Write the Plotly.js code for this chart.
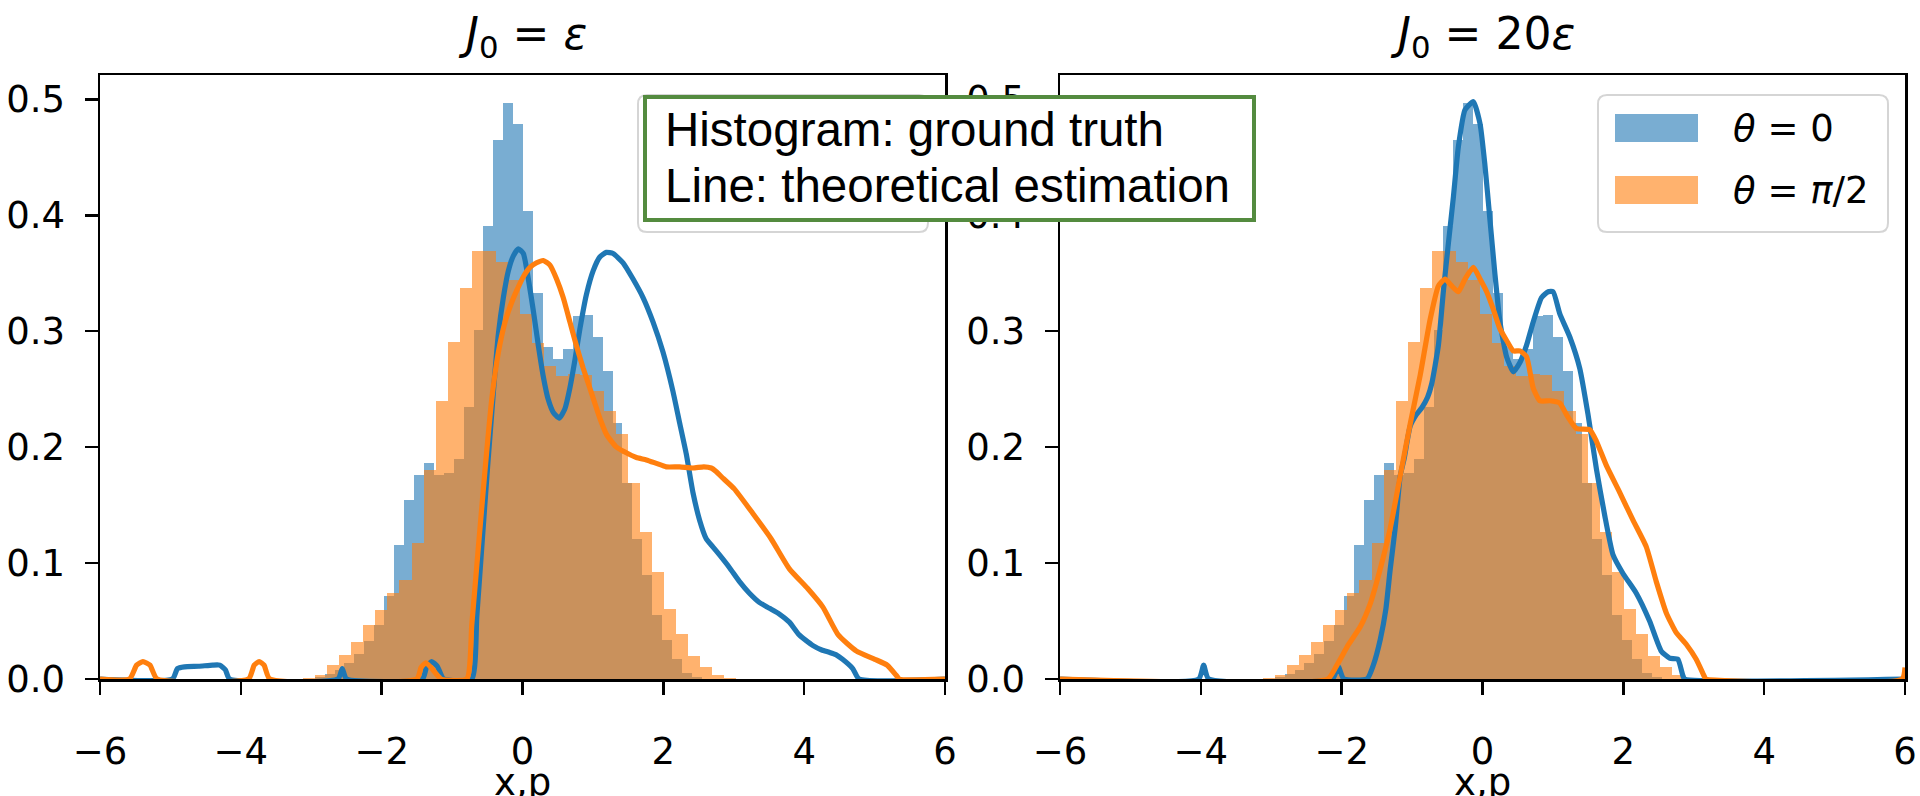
<!DOCTYPE html>
<html>
<head>
<meta charset="utf-8">
<script src="https://cdn.plot.ly/plotly-3.0.1.min.js"></script>
<style>
html,body{margin:0;padding:0;background:#ffffff;}
#chart{width:1920px;height:796px;}
</style>
</head>
<body>
<div id="chart"></div>
<script>
// ---------------- data ----------------
// ground-truth histograms (density), same sample in both panels
const blueBinLeft = [-2.951,-2.810,-2.669,-2.528,-2.387,-2.246,-2.105,-1.964,-1.823,-1.682,-1.541,-1.400,-1.259,-1.118,-0.977,-0.836,-0.695,-0.554,-0.413,-0.272,-0.131,0.010,0.151,0.292,0.433,0.574,0.715,0.856,0.997,1.138,1.279,1.420,1.561,1.702,1.843,1.984,2.125,2.266,2.407];
const blueBinWidth = 0.141;
const blueDensity = [0.002,0.004,0.008,0.014,0.022,0.033,0.047,0.072,0.116,0.154,0.176,0.186,0.176,0.178,0.190,0.235,0.301,0.391,0.465,0.497,0.479,0.404,0.333,0.286,0.276,0.285,0.313,0.314,0.295,0.266,0.221,0.169,0.121,0.090,0.055,0.034,0.017,0.005,0.002];

const orangeBinLeft = [-3.115,-2.944,-2.773,-2.602,-2.431,-2.260,-2.089,-1.918,-1.747,-1.576,-1.405,-1.235,-1.064,-0.893,-0.722,-0.551,-0.380,-0.209,-0.038,0.132,0.303,0.474,0.645,0.816,0.987,1.158,1.329,1.500,1.671,1.842,2.013,2.184,2.354,2.525,2.696,2.867];
const orangeBinWidth = 0.1709;
const orangeDensity = [0.001,0.0034,0.012,0.0206,0.032,0.047,0.0597,0.0746,0.0855,0.117,0.180,0.240,0.291,0.337,0.369,0.369,0.360,0.344,0.315,0.290,0.270,0.261,0.263,0.262,0.248,0.231,0.211,0.169,0.127,0.092,0.060,0.0386,0.020,0.010,0.0034,0.001];

// theoretical estimation, J0 = eps
const estEpsTheta0X = [-6,-4.97,-4.90,-4.80,-4.60,-4.40,-4.30,-4.22,-4.16,-2.62,-2.56,-2.50,-1.42,-1.36,-1.29,-1.21,-1.12,-0.72,-0.649,-0.578,-0.498,-0.413,-0.342,-0.272,-0.201,-0.130,-0.059,0.012,0.083,0.153,0.224,0.295,0.366,0.437,0.522,0.602,0.673,0.744,0.815,0.909,1.003,1.098,1.190,1.287,1.428,1.570,1.712,1.853,1.995,2.137,2.231,2.326,2.420,2.515,2.609,2.703,2.798,2.940,3.082,3.223,3.365,3.507,3.648,3.790,3.930,4.120,4.250,4.357,4.450,4.545,4.690,4.780,6];
const estEpsTheta0Y = [0,0,0.009,0.0105,0.011,0.012,0.012,0.008,0,0,0.009,0,0,0.011,0.015,0.011,0,0,0.054,0.114,0.181,0.248,0.298,0.329,0.352,0.365,0.371,0.367,0.345,0.318,0.288,0.261,0.241,0.230,0.225,0.233,0.251,0.275,0.302,0.332,0.352,0.364,0.368,0.367,0.359,0.345,0.329,0.308,0.282,0.248,0.221,0.194,0.161,0.137,0.121,0.114,0.107,0.096,0.084,0.074,0.066,0.061,0.056,0.049,0.038,0.029,0.025,0.023,0.021,0.017,0.009,0,0];

const estEpsThetaHalfPiX = [-6,-5.58,-5.48,-5.39,-5.29,-5.19,-3.89,-3.81,-3.74,-3.67,-3.59,-1.50,-1.44,-1.373,-1.30,-1.156,-0.791,-0.72,-0.626,-0.531,-0.437,-0.342,-0.248,-0.153,-0.083,0.012,0.106,0.200,0.295,0.390,0.484,0.578,0.673,0.768,0.862,0.956,1.098,1.192,1.334,1.447,1.617,1.759,1.901,2.042,2.231,2.420,2.575,2.680,2.749,2.850,3.008,3.269,3.530,3.790,4.050,4.266,4.484,4.743,5.004,5.178,5.310,5.350,6];
const estEpsThetaHalfPiY = [0,0,0.012,0.015,0.012,0,0,0.012,0.015,0.012,0,0,0.010,0.014,0.010,0,0,0.047,0.114,0.181,0.241,0.282,0.308,0.325,0.335,0.347,0.355,0.359,0.361,0.357,0.345,0.329,0.308,0.287,0.268,0.251,0.225,0.211,0.200,0.196,0.191,0.189,0.186,0.183,0.183,0.182,0.183,0.182,0.179,0.173,0.164,0.143,0.121,0.095,0.078,0.062,0.038,0.024,0.017,0.012,0.003,0,0];

// theoretical estimation, J0 = 20 eps
const est20Theta0X = [-6,-4.03,-3.96,-3.89,-2.13,-2.05,-1.97,-1.64,-1.55,-1.452,-1.373,-1.310,-1.240,-1.169,-1.113,-1.027,-0.940,-0.862,-0.780,-0.720,-0.626,-0.555,-0.484,-0.413,-0.343,-0.248,-0.130,-0.035,0.035,0.106,0.177,0.248,0.342,0.437,0.531,0.626,0.720,0.838,0.933,1.003,1.098,1.240,1.381,1.499,1.618,1.736,1.854,1.995,2.184,2.373,2.539,2.657,2.774,2.845,2.869,6];
const est20Theta0Y = [0,0,0.012,0,0,0.011,0,0,0.012,0.034,0.060,0.095,0.130,0.175,0.190,0.218,0.228,0.234,0.243,0.255,0.288,0.335,0.376,0.416,0.459,0.491,0.498,0.479,0.443,0.396,0.349,0.308,0.278,0.265,0.273,0.288,0.308,0.329,0.334,0.334,0.315,0.295,0.268,0.228,0.181,0.141,0.107,0.091,0.074,0.050,0.024,0.018,0.017,0.003,0,0];

const est20ThetaHalfPiX = [-6,-2.197,-2.067,-1.900,-1.736,-1.594,-1.452,-1.310,-1.169,-1.027,-0.885,-0.744,-0.626,-0.531,-0.437,-0.343,-0.248,-0.130,-0.035,0.059,0.153,0.248,0.342,0.437,0.531,0.626,0.720,0.815,0.956,1.098,1.193,1.335,1.523,1.618,1.760,1.948,2.137,2.326,2.468,2.610,2.751,2.893,3.035,3.152,3.170,5.960,6];
const est20ThetaHalfPiY = [0,0,0.012,0.030,0.045,0.065,0.095,0.130,0.175,0.220,0.262,0.310,0.339,0.345,0.339,0.334,0.345,0.355,0.345,0.334,0.319,0.302,0.292,0.283,0.283,0.278,0.251,0.240,0.240,0.238,0.228,0.216,0.215,0.205,0.184,0.161,0.137,0.114,0.084,0.057,0.040,0.030,0.017,0.002,0,0,0.010];

// text
const panelTitles = ['<i>J</i><sub>0</sub> = <i>ε</i>', '<i>J</i><sub>0</sub> = 20<i>ε</i>'];
const legendLabels = ['<i>θ</i> = 0', '<i>θ</i> = <i>π</i>/2'];
const noteText = ['Histogram: ground truth', 'Line: theoretical estimation'];
const xLabel = 'x,p';
const xTickVals = [-6,-4,-2,0,2,4,6];
const yTickVals = [0,0.1,0.2,0.3,0.4,0.5];
const yTickText = ['0.0','0.1','0.2','0.3','0.4','0.5'];

// ---------------- styling / layout ----------------
const W = 1920, H = 796;
const px = x => x / W;
const py = y => (H - y) / H;

const BLUE = '#1f77b4', ORANGE = '#ff7f0e';
const BLUE_FILL = 'rgba(31,119,180,0.6)', ORANGE_FILL = 'rgba(255,127,14,0.6)';
const FONT = 'DejaVu Sans, sans-serif';

function barTrace(x, y, w, color, xa, ya) {
  return {type:'bar', x:x, y:y, width:w, offset:0, xaxis:xa, yaxis:ya,
    marker:{color:color, line:{width:0}}, hoverinfo:'skip', showlegend:false};
}
function lineTrace(x, y, color, xa, ya) {
  return {type:'scatter', mode:'lines', x:x, y:y, xaxis:xa, yaxis:ya,
    line:{color:color, width:5.2, shape:'spline', smoothing:0.5}, hoverinfo:'skip', showlegend:false};
}

const traces = [
  barTrace(blueBinLeft, blueDensity, blueBinWidth, BLUE_FILL, 'x', 'y'),
  barTrace(orangeBinLeft, orangeDensity, orangeBinWidth, ORANGE_FILL, 'x', 'y'),
  lineTrace(estEpsTheta0X, estEpsTheta0Y, BLUE, 'x', 'y'),
  lineTrace(estEpsThetaHalfPiX, estEpsThetaHalfPiY, ORANGE, 'x', 'y'),
  barTrace(blueBinLeft, blueDensity, blueBinWidth, BLUE_FILL, 'x2', 'y2'),
  barTrace(orangeBinLeft, orangeDensity, orangeBinWidth, ORANGE_FILL, 'x2', 'y2'),
  lineTrace(est20Theta0X, est20Theta0Y, BLUE, 'x2', 'y2'),
  lineTrace(est20ThetaHalfPiX, est20ThetaHalfPiY, ORANGE, 'x2', 'y2')
];

const tickFont = {family:FONT, size:37, color:'black'};
function xAxis(domain, anchor) {
  return {domain:domain, anchor:anchor, range:[-6,6], tickvals:xTickVals,
    ticks:'outside', ticklen:13, tickwidth:2.5, tickcolor:'black',
    showline:true, linewidth:2.5, linecolor:'black', mirror:true,
    showgrid:false, zeroline:false, tickfont:tickFont, ticklabelstandoff:25,
    fixedrange:true};
}
function yAxis(domain, anchor) {
  return {domain:domain, anchor:anchor, range:[0,0.521], tickvals:yTickVals, ticktext:yTickText,
    ticks:'outside', ticklen:13, tickwidth:2.5, tickcolor:'black',
    showline:true, linewidth:2.5, linecolor:'black', mirror:true,
    showgrid:false, zeroline:false, tickfont:tickFont, ticklabelstandoff:12, fixedrange:true};
}

const yDom = [py(679), py(75)];
const leftDom = [px(100), px(945)];
const rightDom = [px(1060), px(1905)];

function roundedRect(x0, y0, x1, y1, r) {
  const rx = r / W, ry = r / H;
  const X0 = px(x0), X1 = px(x1), Y0 = py(y0), Y1 = py(y1); // Y0 top, Y1 bottom
  return 'M' + (X0+rx) + ',' + Y0 + ' L' + (X1-rx) + ',' + Y0 +
    ' Q' + X1 + ',' + Y0 + ' ' + X1 + ',' + (Y0-ry) +
    ' L' + X1 + ',' + (Y1+ry) + ' Q' + X1 + ',' + Y1 + ' ' + (X1-rx) + ',' + Y1 +
    ' L' + (X0+rx) + ',' + Y1 + ' Q' + X0 + ',' + Y1 + ' ' + X0 + ',' + (Y1+ry) +
    ' L' + X0 + ',' + (Y0-ry) + ' Q' + X0 + ',' + Y0 + ' ' + (X0+rx) + ',' + Y0 + ' Z';
}
function legendShapes(left) {
  return [
    {type:'path', xref:'paper', yref:'paper', path:roundedRect(left, 95, left+290, 232, 9),
      fillcolor:'rgba(255,255,255,0.8)', line:{color:'#d5d5d5', width:2}, layer:'above'},
    {type:'rect', xref:'paper', yref:'paper', x0:px(left+17), x1:px(left+100), y0:py(142), y1:py(114),
      fillcolor:BLUE_FILL, line:{width:0}, layer:'above'},
    {type:'rect', xref:'paper', yref:'paper', x0:px(left+17), x1:px(left+100), y0:py(204), y1:py(176),
      fillcolor:ORANGE_FILL, line:{width:0}, layer:'above'}
  ];
}

const shapes = [].concat(
  legendShapes(638),
  legendShapes(1598),
  [{type:'rect', xref:'paper', yref:'paper', x0:px(645), x1:px(1254), y0:py(220), y1:py(97),
    fillcolor:'white', line:{color:'#548b3f', width:4}, layer:'above'}]
);

const noteFont = {family:'Liberation Sans, Arial, sans-serif', size:47.5, color:'black'};
const annotations = [
  {text:panelTitles[0], xref:'paper', yref:'paper', x:(leftDom[0]+leftDom[1])/2, y:py(37),
    xanchor:'center', yanchor:'middle', showarrow:false, font:{family:FONT, size:44, color:'black'}},
  {text:panelTitles[1], xref:'paper', yref:'paper', x:(rightDom[0]+rightDom[1])/2, y:py(37),
    xanchor:'center', yanchor:'middle', showarrow:false, font:{family:FONT, size:44, color:'black'}},
  {text:xLabel, xref:'paper', yref:'paper', x:(leftDom[0]+leftDom[1])/2, y:py(760),
    xanchor:'center', yanchor:'top', borderpad:0, showarrow:false, font:tickFont},
  {text:xLabel, xref:'paper', yref:'paper', x:(rightDom[0]+rightDom[1])/2, y:py(760),
    xanchor:'center', yanchor:'top', borderpad:0, showarrow:false, font:tickFont},
  {text:legendLabels[0], xref:'paper', yref:'paper', x:px(1731), y:py(128), xanchor:'left', yanchor:'middle',
    showarrow:false, font:{family:FONT, size:37, color:'black'}},
  {text:legendLabels[1], xref:'paper', yref:'paper', x:px(1731), y:py(191), xanchor:'left', yanchor:'middle',
    showarrow:false, font:{family:FONT, size:37, color:'black'}},
  {text:noteText[0], xref:'paper', yref:'paper', x:px(664), y:py(102), xanchor:'left', yanchor:'top',
    align:'left', showarrow:false, borderpad:0, font:noteFont},
  {text:noteText[1], xref:'paper', yref:'paper', x:px(664), y:py(158), xanchor:'left', yanchor:'top',
    align:'left', showarrow:false, borderpad:0, font:noteFont}
];

const layout = {
  width:W, height:H, margin:{l:0, r:0, t:0, b:0},
  paper_bgcolor:'white', plot_bgcolor:'white',
  showlegend:false, barmode:'overlay', bargap:0,
  font:{family:FONT, size:37, color:'black'},
  xaxis:xAxis(leftDom, 'y'), yaxis:yAxis(yDom, 'x'),
  xaxis2:xAxis(rightDom, 'y2'), yaxis2:yAxis(yDom, 'x2'),
  shapes:shapes, annotations:annotations
};

Plotly.newPlot('chart', traces, layout, {displayModeBar:false, staticPlot:true});
</script>
</body>
</html>
